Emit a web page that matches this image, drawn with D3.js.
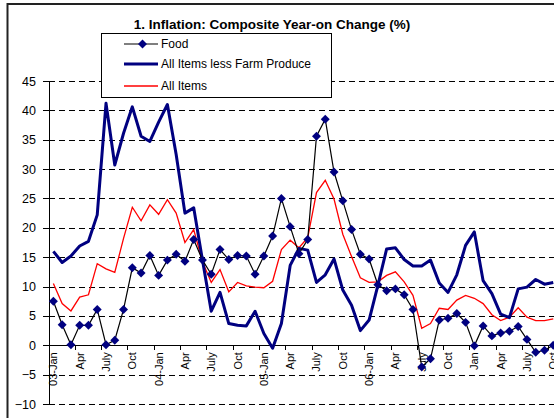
<!DOCTYPE html>
<html>
<head>
<meta charset="utf-8">
<script src="https://cdn.jsdelivr.net/npm/d3@7"></script>
<style>
  body { margin: 0; background: #fff; overflow: hidden; }
  text { font-family: "Liberation Sans", Arial, sans-serif; }
</style>
</head>
<body>
<div id="chart"></div>
<script>
// monthly values, Jan 2003 .. Oct 2007
var food = [7.5, 3.5, 0.1, 3.4, 3.4, 6.1, 0.1, 0.85, 6.1, 13.2, 12.3, 15.3,
            11.9, 14.5, 15.5, 14.3, 18.0, 14.5, 12.1, 16.3, 14.6, 15.3, 15.2, 12.1,
            15.2, 18.6, 25.0, 20.2, 15.6, 18.0, 35.6, 38.5, 29.5, 24.6, 19.7, 15.5,
            14.7, 10.3, 9.3, 9.6, 8.6, 6.1, -3.7, -2.3, 4.3, 4.6, 5.4, 3.9,
            -0.1, 3.3, 1.6, 2.1, 2.4, 3.2, 1.0, -1.2, -0.85, 0.0];

var lessFarm = [16.0, 14.1, 15.2, 16.9, 17.7, 22.2, 41.2, 30.7, 36.1, 40.6, 35.6, 34.7,
                38.0, 41.0, 32.5, 22.5, 23.4, 14.5, 5.8, 9.0, 3.7, 3.4, 3.3, 5.8,
                2.0, -0.5, 3.7, 13.6, 16.5, 16.2, 10.7, 12.0, 14.7, 9.4, 6.8, 2.5,
                4.3, 10.2, 16.4, 16.6, 14.6, 13.5, 13.5, 14.5, 10.6, 9.0, 12.0, 17.0,
                19.3, 11.0, 8.8, 5.3, 4.7, 9.6, 9.9, 11.2, 10.4, 10.7];

var allItems = [10.5, 7.1, 5.85, 8.2, 8.6, 13.9, 13.0, 12.4, 18.2, 23.5, 21.2, 23.9,
                22.3, 24.8, 22.5, 17.5, 19.7, 14.2, 10.7, 12.9, 9.1, 10.7, 10.1, 9.9,
                9.8, 10.9, 16.3, 17.9, 16.6, 18.3, 26.0, 28.1, 24.9, 18.9, 15.1, 11.5,
                10.7, 10.8, 11.9, 12.5, 10.8, 8.5, 2.9, 3.7, 6.3, 6.1, 7.7, 8.5,
                8.0, 7.1, 5.2, 4.2, 4.8, 6.4, 4.8, 4.2, 4.2, 4.5];

// a label every third month
var tickLabels = ["03-Jan", "Apr", "July", "Oct", "04-Jan", "Apr", "July", "Oct",
                  "05-Jan", "Apr", "July", "Oct", "06-Jan", "Apr", "July", "Oct",
                  "Jan", "Apr", "July", "Oct"];

var yTicks = [-10, -5, 0, 5, 10, 15, 20, 25, 30, 35, 40, 45];

var seriesNames = ["Food", "All Items less Farm Produce", "All Items"];

var months = food.map(function(d, i) { return i; });

var width = 554, height = 418;
var plotLeft = 49, plotTop = 81, plotBottom = 404;
var step = 8.77;
var plotRight = plotLeft + months.length * step;

var svg = d3.select("#chart").append("svg")
    .attr("width", width).attr("height", height)
    .style("display", "block");

svg.append("rect").attr("width", width).attr("height", height).attr("fill", "#fff");

var x = d3.scaleBand().domain(months).range([plotLeft, plotRight]).padding(0);
var y = d3.scaleLinear().domain([-10, 45]).range([plotBottom, plotTop]);
var cx = function(i) { return x(i) + x.bandwidth() / 2; };

// gridlines
svg.append("g").selectAll("line")
  .data(yTicks.filter(function(d) { return d !== 0; }))
  .enter().append("line")
    .attr("x1", plotLeft).attr("x2", plotRight)
    .attr("y1", function(d) { return Math.round(y(d)) + 0.5; })
    .attr("y2", function(d) { return Math.round(y(d)) + 0.5; })
    .attr("stroke", "#000").attr("stroke-width", 1)
    .attr("stroke-dasharray", "6,4");

// y axis
var yAxis = svg.append("g")
    .attr("transform", "translate(" + plotLeft + ",0)")
    .call(d3.axisLeft(y).tickValues(yTicks).tickSize(6).tickPadding(7));
yAxis.select(".domain").attr("stroke", "#000").attr("shape-rendering", "crispEdges");
yAxis.selectAll(".tick line").attr("stroke", "#000").attr("shape-rendering", "crispEdges");
yAxis.selectAll("text").attr("font-size", "12.5px").attr("fill", "#000")
    .style("font-family", "'Liberation Sans', Arial, sans-serif");

// x axis line at zero
svg.append("line")
    .attr("x1", plotLeft).attr("x2", plotRight)
    .attr("y1", y(0)).attr("y2", y(0))
    .attr("stroke", "#000").attr("shape-rendering", "crispEdges");

var labelled = months.filter(function(i) { return i % 3 === 0; });

svg.append("g").selectAll("line")
  .data(labelled)
  .enter().append("line")
    .attr("x1", function(i) { return x(i); }).attr("x2", function(i) { return x(i); })
    .attr("y1", y(0)).attr("y2", y(0) + 5)
    .attr("stroke", "#000").attr("shape-rendering", "crispEdges");

svg.append("g").selectAll("text")
  .data(labelled)
  .enter().append("text")
    .attr("transform", function(i) {
      return "translate(" + (cx(i) + 4) + "," + (y(0) + 7) + ") rotate(-90)";
    })
    .attr("text-anchor", "end")
    .attr("font-size", "11px")
    .text(function(i, k) { return tickLabels[k]; });

// series
var line = function(vals) {
  return d3.line().x(function(d, i) { return cx(i); }).y(function(d) { return y(d); })(vals);
};

svg.append("path").attr("d", line(allItems))
    .attr("fill", "none").attr("stroke", "#ff0000").attr("stroke-width", 1.3);

svg.append("path").attr("d", line(lessFarm))
    .attr("fill", "none").attr("stroke", "#000080").attr("stroke-width", 3)
    .attr("stroke-linejoin", "round");

svg.append("path").attr("d", line(food))
    .attr("fill", "none").attr("stroke", "#000").attr("stroke-width", 1.2);

var diamond = d3.symbol().type(d3.symbolSquare).size(40);
svg.append("g").selectAll("path")
  .data(food)
  .enter().append("path")
    .attr("d", diamond)
    .attr("transform", function(d, i) {
      return "translate(" + cx(i) + "," + y(d) + ") rotate(45)";
    })
    .attr("fill", "#000080");

// legend
var legend = svg.append("g").attr("transform", "translate(101,33)");
legend.append("rect").attr("x", 0.5).attr("y", 0.5).attr("width", 230).attr("height", 64)
    .attr("fill", "#fff").attr("stroke", "#000");

var rows = [11, 31, 53];
legend.selectAll("text")
  .data(seriesNames)
  .enter().append("text")
    .attr("x", 60).attr("y", function(d, i) { return rows[i] + 4; })
    .attr("font-size", "12px")
    .text(function(d) { return d; });

legend.append("line").attr("x1", 23).attr("x2", 57).attr("y1", rows[0]).attr("y2", rows[0])
    .attr("stroke", "#000").attr("stroke-width", 1.2);
legend.append("path").attr("d", diamond)
    .attr("transform", "translate(41.5," + rows[0] + ") rotate(45)").attr("fill", "#000080");
legend.append("line").attr("x1", 23).attr("x2", 57).attr("y1", rows[1]).attr("y2", rows[1])
    .attr("stroke", "#000080").attr("stroke-width", 3);
legend.append("line").attr("x1", 23).attr("x2", 57).attr("y1", rows[2]).attr("y2", rows[2])
    .attr("stroke", "#ff0000").attr("stroke-width", 1.3);

// title
svg.append("text")
    .attr("x", 272).attr("y", 29)
    .attr("text-anchor", "middle")
    .attr("font-size", "13.5px").attr("font-weight", "bold")
    .text("1. Inflation: Composite Year-on Change (%)");

// chart area border
svg.append("rect")
    .attr("x", 7.5).attr("y", 4).attr("width", 600).attr("height", 500)
    .attr("fill", "none").attr("stroke", "#222").attr("stroke-width", 2);
</script>
</body>
</html>
